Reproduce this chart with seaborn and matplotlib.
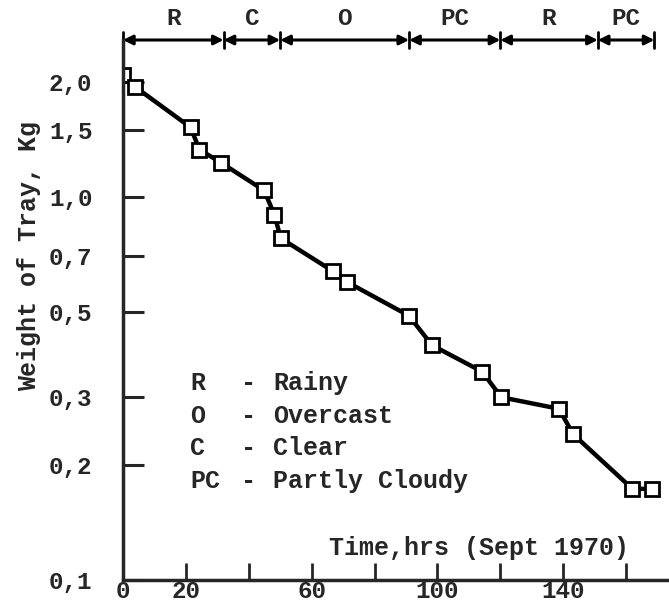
import matplotlib
matplotlib.use("Agg")
import matplotlib.pyplot as plt
import matplotlib.ticker as mticker
import seaborn as sns
import pandas as pd

# Tray weight measurements
hours = [0, 3.8, 21.5, 24.3, 31.1, 44.9, 48.1, 50.2, 66.8, 71.2,
         90.9, 98.3, 114.2, 120.3, 138.6, 143.2, 162.0, 168.2]
weight = [2.08, 1.94, 1.52, 1.33, 1.23, 1.04, 0.90, 0.78, 0.64, 0.60,
          0.49, 0.41, 0.35, 0.30, 0.28, 0.24, 0.173, 0.173]

# Weather periods along the top
period_bounds = [0, 32, 50, 91, 120, 151, 169]
period_labels = ["R", "C", "O", "PC", "R", "PC"]

# Key for the weather codes
key_codes = ["R", "O", "C", "PC"]
key_names = ["Rainy", "Overcast", "Clear", "Partly Cloudy"]

y_ticks = [2.0, 1.5, 1.0, 0.7, 0.5, 0.3, 0.2, 0.1]
y_ticklabels = ["2,0", "1,5", "1,0", "0,7", "0,5", "0,3", "0,2", "0,1"]
x_ticks = [0, 20, 40, 60, 80, 100, 120, 140, 160]
x_labelled = [0, 20, 60, 100, 140]

sns.set_style("ticks")
FONT = "Liberation Mono"
plt.rcParams["font.family"] = [FONT, "DejaVu Sans Mono"]
plt.rcParams["font.weight"] = "bold"
plt.rcParams["axes.labelweight"] = "bold"

df = pd.DataFrame({"hours": hours, "weight": weight})

fig = plt.figure(figsize=(6.69, 6.04), dpi=100)
ax = fig.add_axes([123 / 669, 24 / 604, 544 / 669, 540 / 604])

sns.lineplot(data=df, x="hours", y="weight", ax=ax, color="black",
             linewidth=3.2, marker="s", markersize=10,
             markerfacecolor="white", markeredgecolor="black",
             markeredgewidth=2, sort=False)

ax.set_yscale("log")
ax.set_xlim(0, 173)
ax.set_ylim(0.1, 2.57)

ax.yaxis.set_major_locator(mticker.FixedLocator(y_ticks))
ax.yaxis.set_major_formatter(mticker.FixedFormatter(y_ticklabels))
ax.yaxis.set_minor_locator(mticker.NullLocator())
ax.xaxis.set_major_locator(mticker.FixedLocator(x_ticks))
ax.xaxis.set_major_formatter(mticker.FixedFormatter(
    [str(t) if t in x_labelled else "" for t in x_ticks]))
ax.xaxis.set_minor_locator(mticker.NullLocator())

ax.tick_params(axis="y", direction="in", length=15, width=2.2,
               labelsize=17.5, pad=22)
ax.tick_params(axis="x", direction="in", length=12, width=2,
               labelsize=17.5, pad=0)

for s in ["top", "right"]:
    ax.spines[s].set_visible(False)
for s in ["left", "bottom"]:
    ax.spines[s].set_linewidth(2.5)

ax.set_xlabel("")
ax.set_ylabel("Weight of Tray, Kg", fontsize=18)
ax.yaxis.set_label_coords(-0.150, 0.60)

# weather periods: double arrows along the top edge
xt = ax.get_xaxis_transform()
for a, b, lab in zip(period_bounds[:-1], period_bounds[1:], period_labels):
    ax.annotate("", xy=(a, 1.0), xytext=(b, 1.0), xycoords=xt,
                textcoords=xt, annotation_clip=False,
                arrowprops=dict(arrowstyle="<|-|>", color="black", lw=2.2,
                                mutation_scale=14, shrinkA=0, shrinkB=0))
    ax.text((a + b) / 2, 1.04, lab, transform=xt, ha="center",
            va="center", fontsize=17.5)
for b in period_bounds:
    ax.plot([b, b], [0.985, 1.015], transform=xt, color="black", lw=2,
            clip_on=False)

# key for the weather codes
for i, (code, name) in enumerate(zip(key_codes, key_names)):
    y = 0.365 - i * 0.0605
    ax.text(0.123, y, code, transform=ax.transAxes, ha="left",
            va="center", fontsize=18)
    ax.text(0.216, y, "-", transform=ax.transAxes, ha="left",
            va="center", fontsize=18)
    ax.text(0.276, y, name, transform=ax.transAxes, ha="left",
            va="center", fontsize=18)

ax.text(0.655, 0.06, "Time,hrs (Sept 1970)", transform=ax.transAxes,
        ha="center", va="center", fontsize=18)

fig.savefig("out.png", dpi=100)
